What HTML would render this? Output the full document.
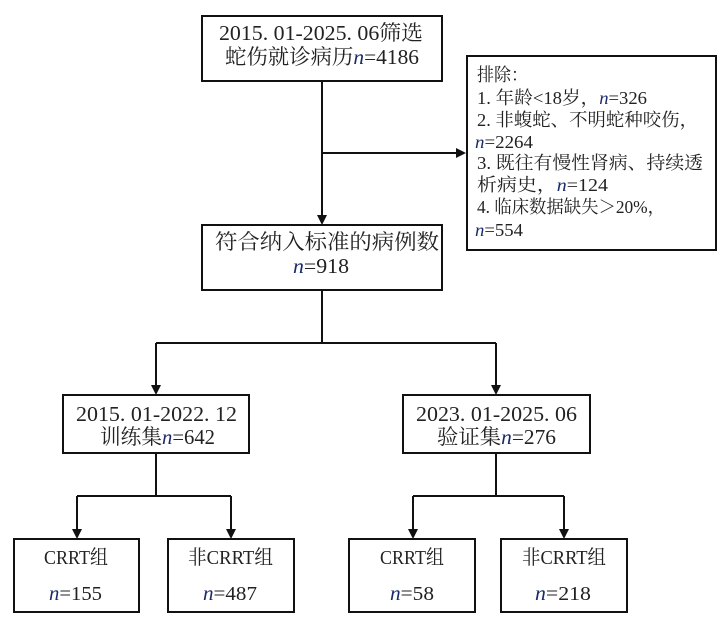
<!DOCTYPE html>
<html><head><meta charset="utf-8"><style>
html,body{margin:0;padding:0;background:#fff;}
svg{display:block;}
text{font-family:"Liberation Serif","Noto Serif CJK SC",serif;fill:#222;}
.n{font-style:italic;fill:#1b2a6b;font-family:"Liberation Serif",serif;}
</style></head><body>
<svg width="726" height="620" viewBox="0 0 726 620" xmlns="http://www.w3.org/2000/svg">
<g fill="none" stroke="#111" stroke-width="2">
<rect x="202" y="16" width="240" height="65"/>
<rect x="467" y="56" width="249" height="194"/>
<rect x="202" y="225" width="240" height="65"/>
<rect x="63" y="395" width="186" height="58"/>
<rect x="403" y="395" width="187" height="58"/>
<rect x="14" y="539" width="125" height="73"/>
<rect x="168" y="539" width="126" height="73"/>
<rect x="349" y="539" width="126" height="73"/>
<rect x="501" y="539" width="126" height="73"/>
<path d="M322 81V216M322 153H457M322 290V343M156 343H496M156 343V386M496 343V386M156 453V496M77 496H231M77 496V530M231 496V530M496 453V496M413 496H564M413 496V530M564 496V530"/>
</g>
<g fill="#111">
<polygon points="317,215 327,215 322,225"/>
<polygon points="456,148 456,158 466,153"/>
<polygon points="151,385 161,385 156,395"/>
<polygon points="491,385 501,385 496,395"/>
<polygon points="72,529 82,529 77,539"/>
<polygon points="226,529 236,529 231,539"/>
<polygon points="408,529 418,529 413,539"/>
<polygon points="559,529 569,529 564,539"/>
</g>
<g font-size="21">
<text x="219" y="40" textLength="204" lengthAdjust="spacingAndGlyphs">2015. 01-2025. 06筛选</text>
<text x="225" y="64" textLength="194" lengthAdjust="spacingAndGlyphs">蛇伤就诊病历<tspan class="n">n</tspan>=4186</text>
<text x="215" y="249" textLength="224" lengthAdjust="spacingAndGlyphs">符合纳入标准的病例数</text>
<text x="293" y="273" textLength="56" lengthAdjust="spacingAndGlyphs"><tspan class="n">n</tspan>=918</text>
<text x="76" y="421" textLength="161" lengthAdjust="spacingAndGlyphs">2015. 01-2022. 12</text>
<text x="100" y="444" textLength="115" lengthAdjust="spacingAndGlyphs">训练集<tspan class="n">n</tspan>=642</text>
<text x="416" y="421" textLength="161" lengthAdjust="spacingAndGlyphs">2023. 01-2025. 06</text>
<text x="437" y="444" textLength="119" lengthAdjust="spacingAndGlyphs">验证集<tspan class="n">n</tspan>=276</text>
</g>
<g font-size="20">
<text x="44" y="564" textLength="64" lengthAdjust="spacingAndGlyphs">CRRT组</text>
<text x="49" y="600" textLength="53" lengthAdjust="spacingAndGlyphs"><tspan class="n">n</tspan>=155</text>
<text x="188" y="564" textLength="85" lengthAdjust="spacingAndGlyphs">非CRRT组</text>
<text x="203" y="600" textLength="54" lengthAdjust="spacingAndGlyphs"><tspan class="n">n</tspan>=487</text>
<text x="380" y="564" textLength="64" lengthAdjust="spacingAndGlyphs">CRRT组</text>
<text x="390" y="600" textLength="44" lengthAdjust="spacingAndGlyphs"><tspan class="n">n</tspan>=58</text>
<text x="522" y="564" textLength="84" lengthAdjust="spacingAndGlyphs">非CRRT组</text>
<text x="535" y="600" textLength="56" lengthAdjust="spacingAndGlyphs"><tspan class="n">n</tspan>=218</text>
</g>
<g font-size="18">
<text x="477" y="81" textLength="51" lengthAdjust="spacingAndGlyphs">排除：</text>
<text x="477" y="104" textLength="170" lengthAdjust="spacingAndGlyphs">1. 年龄&lt;18岁，<tspan class="n">n</tspan>=326</text>
<text x="477" y="126" textLength="221" lengthAdjust="spacingAndGlyphs">2. 非蝮蛇、不明蛇种咬伤，</text>
<text x="475" y="148" textLength="58" lengthAdjust="spacingAndGlyphs"><tspan class="n">n</tspan>=2264</text>
<text x="477" y="169" textLength="226" lengthAdjust="spacingAndGlyphs">3. 既往有慢性肾病、持续透</text>
<text x="477" y="191" textLength="131" lengthAdjust="spacingAndGlyphs">析病史，<tspan class="n">n</tspan>=124</text>
<text x="477" y="213" textLength="188" lengthAdjust="spacingAndGlyphs">4. 临床数据缺失＞20%，</text>
<text x="475" y="236" textLength="48" lengthAdjust="spacingAndGlyphs"><tspan class="n">n</tspan>=554</text>
</g>
</svg>
</body></html>
